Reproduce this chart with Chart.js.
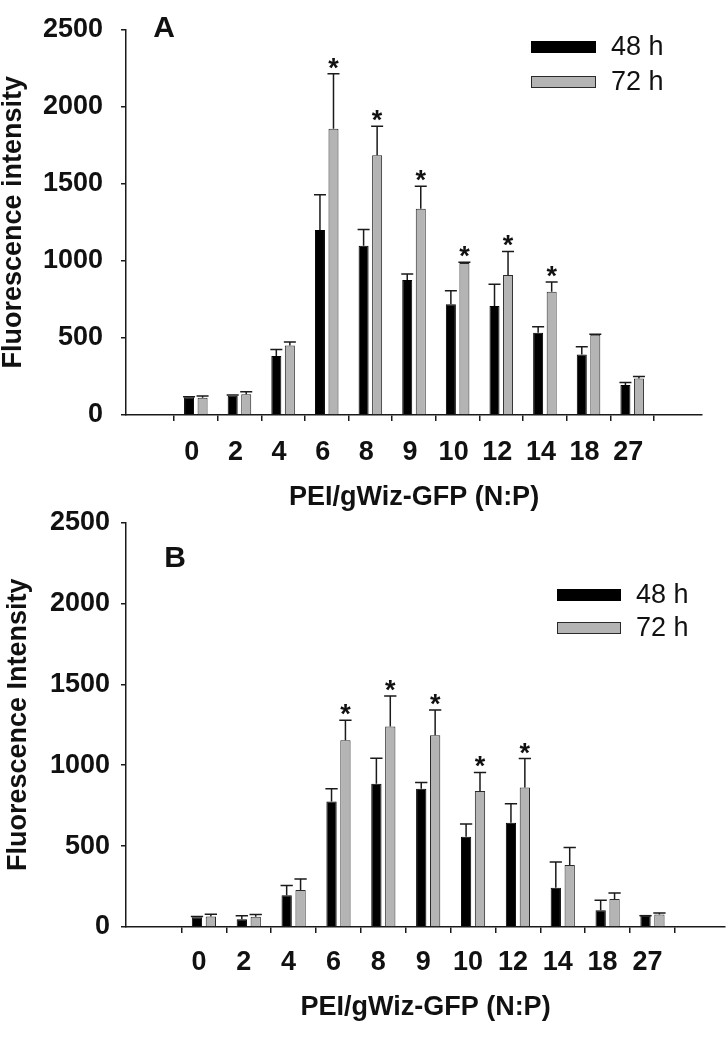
<!DOCTYPE html>
<html>
<head>
<title>PEI/gWiz-GFP fluorescence</title>
<script src="https://cdn.jsdelivr.net/npm/chart.js@4.4.0/dist/chart.umd.min.js"></script>
<style>
  body { margin: 0; background: #fff; }
  #wrap { position: relative; width: 727px; height: 1049px; }
  #wrap canvas { position: absolute; left: 0; }
</style>
</head>
<body>
<div id="wrap">
  <canvas id="chartA" width="727" height="520" style="top:0px"></canvas>
  <canvas id="chartB" width="727" height="549" style="top:500px"></canvas>
</div>

<script>
// N:P ratios on the x axis
var npRatios = ['0', '2', '4', '6', '8', '9', '10', '12', '14', '18', '27'];
var yTickValues = [0, 500, 1000, 1500, 2000, 2500];
var seriesLabels = ['48 h', '72 h'];

// panel A
var a48    = [115, 125, 383, 1199, 1098, 875, 718, 707, 533, 393, 194];
var a48err = [3, 4, 41, 230, 105, 39, 88, 141, 40, 49, 17];
var a72    = [112, 135, 451, 1857, 1685, 1338, 986, 908, 800, 521, 236];
var a72err = [12, 16, 22, 356, 187, 146, 5, 153, 62, 3, 14];
var a72sig = [0, 0, 0, 1, 1, 1, 1, 1, 1, 0, 0];

// panel B
var b48    = [60, 48, 196, 776, 885, 854, 557, 644, 243, 103, 70];
var b48err = [5, 22, 61, 78, 158, 39, 79, 117, 158, 62, 0];
var b72    = [65, 64, 228, 1154, 1239, 1185, 840, 862, 383, 173, 78];
var b72err = [14, 14, 68, 124, 189, 156, 115, 179, 109, 37, 8];
var b72sig = [0, 0, 0, 1, 1, 1, 1, 1, 0, 0, 0];

var FONT = '"Liberation Sans", Arial, sans-serif';
var INK = '#111';

// error bars, significance stars, legend and panel letter
var extras = {
  id: 'extras',
  afterDatasetsDraw: function(chart) {
    var ctx = chart.ctx, ys = chart.scales.y;
    chart.data.datasets.forEach(function(ds, di) {
      var meta = chart.getDatasetMeta(di);
      meta.data.forEach(function(bar, i) {
        var top = ys.getPixelForValue(ds.data[i].y + ds.err[i]);
        var half = bar.width / 2 + 1;
        ctx.save();
        ctx.strokeStyle = '#1a1a1a';
        ctx.lineWidth = 1.5;
        ctx.beginPath();
        ctx.moveTo(bar.x, bar.y);
        ctx.lineTo(bar.x, top);
        ctx.moveTo(bar.x - half, top);
        ctx.lineTo(bar.x + half, top);
        ctx.stroke();
        if (ds.sig && ds.sig[i]) {
          ctx.fillStyle = INK;
          ctx.font = 'bold 27px ' + FONT;
          ctx.textAlign = 'center';
          ctx.textBaseline = 'alphabetic';
          ctx.fillText('*', bar.x, top + 3);
        }
        ctx.restore();
      });
    });
  },
  afterDraw: function(chart, args, o) {
    var ctx = chart.ctx, L = o.legend;
    ctx.save();
    chart.data.datasets.forEach(function(ds, di) {
      var ry = L.y + di * L.gap;
      ctx.fillStyle = ds.backgroundColor;
      ctx.fillRect(L.x, ry, L.w, L.h);
      ctx.strokeStyle = ds.borderColor;
      ctx.lineWidth = 1;
      ctx.strokeRect(L.x + 0.5, ry + 0.5, L.w - 1, L.h - 1);
      ctx.fillStyle = INK;
      ctx.font = '27px ' + FONT;
      ctx.textAlign = 'left';
      ctx.textBaseline = 'middle';
      ctx.fillText(ds.label, L.textX, ry + L.h / 2 + 1);
    });
    ctx.font = 'bold 30px ' + FONT;
    ctx.textAlign = 'center';
    ctx.textBaseline = 'alphabetic';
    ctx.fillText(o.letter.text, o.letter.x, o.letter.y + 11);
    ctx.restore();
  }
};

function panel(id, d, o) {
  var idx = npRatios.map(function(l, i) { return i; });
  return new Chart(document.getElementById(id), {
    type: 'bar',
    data: {
      datasets: [
        { label: seriesLabels[0], data: idx.map(function(i) { return { x: i, y: d.v48[i] }; }),
          err: d.e48, backgroundColor: '#000', borderColor: '#000', borderWidth: 1 },
        { label: seriesLabels[1], data: idx.map(function(i) { return { x: i, y: d.v72[i] }; }),
          err: d.e72, sig: d.sig, backgroundColor: '#b4b4b4', borderColor: '#2a2a2a', borderWidth: 1 }
      ]
    },
    options: {
      responsive: false,
      animation: false,
      layout: { padding: { left: 0, right: o.padRight, top: o.padTop, bottom: 0 } },
      datasets: { bar: { categoryPercentage: 0.62, barPercentage: 0.74 } },
      plugins: {
        legend: { display: false },
        tooltip: { enabled: false },
        extras: { legend: o.legend, letter: o.letter }
      },
      scales: {
        x: {
          type: 'linear',
          bounds: 'data',
          min: o.xMin,
          max: o.xMax,
          afterBuildTicks: function(s) { s.ticks = idx.map(function(i) { return { value: i }; }); },
          afterFit: function(s) { s.height = o.xHeight; },
          ticks: {
            callback: function(v) { return npRatios[v]; },
            autoSkip: false, maxRotation: 0,
            padding: o.xTickPad, labelOffset: o.xLabelOffset,
            color: INK, font: { family: FONT, size: 27, weight: 'bold' }
          },
          grid: { drawOnChartArea: false, tickLength: 6, color: '#1a1a1a', lineWidth: 1.5 },
          border: { color: '#1a1a1a', width: 1.5 },
          title: {
            display: true, text: 'PEI/gWiz-GFP (N:P)', color: INK,
            font: { family: FONT, size: 27, weight: 'bold', lineHeight: 1 },
            padding: { top: 0, bottom: o.xTitlePad }
          }
        },
        y: {
          min: 0,
          max: 2500,
          afterBuildTicks: function(s) { s.ticks = yTickValues.map(function(v) { return { value: v }; }); },
          afterFit: function(s) { s.width = 126; },
          ticks: {
            callback: function(v) { return String(v); },
            padding: o.yTickPad, color: INK,
            font: { family: FONT, size: 27, weight: 'bold', lineHeight: 0.85 }
          },
          grid: { drawOnChartArea: false, tickLength: 5, color: '#1a1a1a', lineWidth: 1.5 },
          border: { color: '#1a1a1a', width: 1.5 },
          title: {
            display: true, text: o.yTitle, color: INK,
            font: { family: FONT, size: 27, weight: 'bold', lineHeight: 1 },
            padding: { top: o.yTitlePad, bottom: 0 }
          }
        }
      }
    },
    plugins: [extras]
  });
}

panel('chartA',
  { v48: a48, e48: a48err, v72: a72, e72: a72err, sig: a72sig },
  { xMin: -1, xMax: 11, padTop: 12, padRight: 25, xHeight: 105, xTickPad: 15, xLabelOffset: -4,
    xTitlePad: 9, yTickPad: 18, yTitle: 'Fluorescence intensity', yTitlePad: 0,
    legend: { x: 531, y: 41, w: 65, h: 12, gap: 35, textX: 611 },
    letter: { text: 'A', x: 164, y: 26 } });

panel('chartB',
  { v48: b48, e48: b48err, v72: b72, e72: b72err, sig: b72sig },
  { xMin: -1.13, xMax: 11.01, padTop: 22, padRight: 2, xHeight: 122, xTickPad: 13, xLabelOffset: -5,
    xTitlePad: 28, yTickPad: 11, yTitle: 'Fluorescence Intensity', yTitlePad: 5,
    legend: { x: 557, y: 89, w: 64, h: 12, gap: 33, textX: 636 },
    letter: { text: 'B', x: 175, y: 56 } });
</script>
</body>
</html>
